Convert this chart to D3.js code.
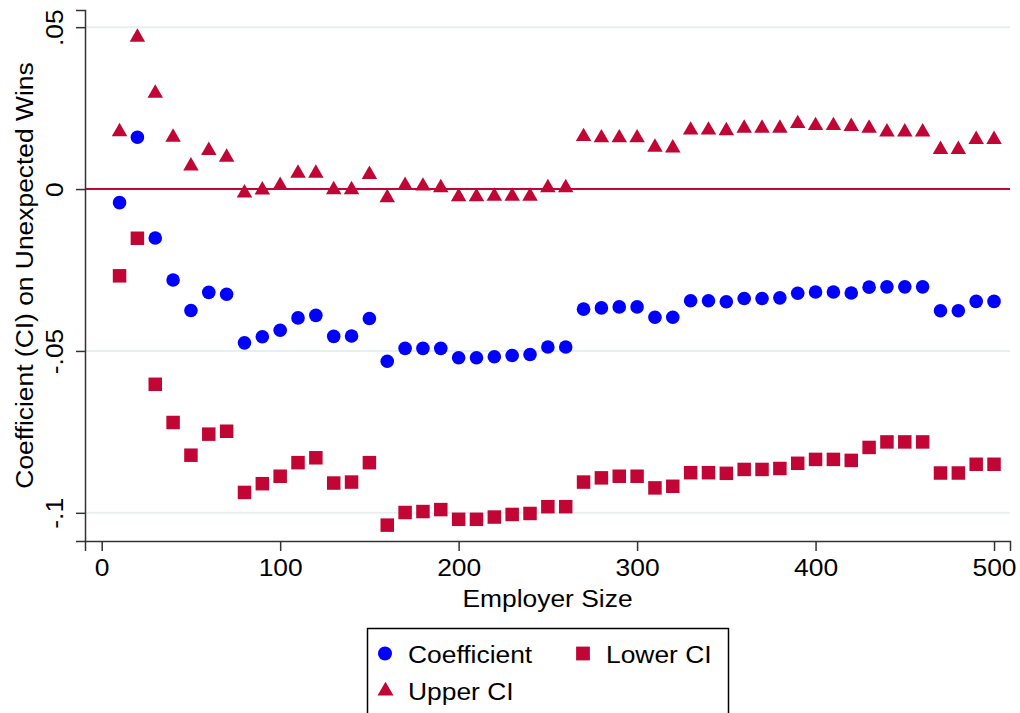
<!DOCTYPE html>
<html>
<head>
<meta charset="utf-8">
<script src="https://cdn.jsdelivr.net/npm/d3@7"></script>
<style>
  html, body { margin: 0; padding: 0; background: #fff; }
  svg { display: block; font-family: "Liberation Sans", Arial, Helvetica, sans-serif; }
</style>
</head>
<body>
<svg id="chart" width="1020" height="713"></svg>
<script>
// employer size bins
const sizes = [10, 20, 30, 40, 50, 60, 70, 80, 90, 100,
  110, 120, 130, 140, 150, 160, 170, 180, 190, 200,
  210, 220, 230, 240, 250, 260, 270, 280, 290, 300,
  310, 320, 330, 340, 350, 360, 370, 380, 390, 400,
  410, 420, 430, 440, 450, 460, 470, 480, 490, 500];

const coefficient = [-0.0042, 0.0160, -0.0151, -0.0281, -0.0375, -0.0319, -0.0325, -0.0475, -0.0456, -0.0436,
  -0.0398, -0.0390, -0.0455, -0.0454, -0.0400, -0.0532, -0.0492, -0.0492, -0.0492, -0.0521,
  -0.0521, -0.0518, -0.0514, -0.0511, -0.0488, -0.0488, -0.0371, -0.0367, -0.0364, -0.0364,
  -0.0396, -0.0396, -0.0345, -0.0345, -0.0348, -0.0338, -0.0338, -0.0336, -0.0322, -0.0318,
  -0.0318, -0.0321, -0.0303, -0.0302, -0.0302, -0.0302, -0.0376, -0.0376, -0.0347, -0.0347];

const lowerCI = [-0.0268, -0.0152, -0.0603, -0.0721, -0.0822, -0.0757, -0.0748, -0.0937, -0.0910, -0.0887,
  -0.0845, -0.0830, -0.0908, -0.0905, -0.0845, -0.1038, -0.0999, -0.0996, -0.0990, -0.1020,
  -0.1020, -0.1013, -0.1005, -0.1002, -0.0981, -0.0981, -0.0905, -0.0892, -0.0887, -0.0887,
  -0.0923, -0.0918, -0.0876, -0.0876, -0.0878, -0.0866, -0.0866, -0.0863, -0.0847, -0.0835,
  -0.0835, -0.0838, -0.0798, -0.0781, -0.0781, -0.0781, -0.0877, -0.0877, -0.0850, -0.0850];

const upperCI = [0.0177, 0.0469, 0.0296, 0.0160, 0.0071, 0.0119, 0.0098, -0.0012, -0.0003, 0.0011,
  0.0049, 0.0049, -0.0002, -0.0002, 0.0045, -0.0027, 0.0011, 0.0009, 0.0004, -0.0024,
  -0.0024, -0.0022, -0.0022, -0.0022, 0.0004, 0.0004, 0.0162, 0.0158, 0.0158, 0.0158,
  0.0129, 0.0127, 0.0182, 0.0182, 0.0180, 0.0188, 0.0188, 0.0188, 0.0202, 0.0196,
  0.0196, 0.0193, 0.0188, 0.0176, 0.0176, 0.0176, 0.0122, 0.0122, 0.0153, 0.0153];

const xTicks = [0, 100, 200, 300, 400, 500];
const yTicks = [-0.1, -0.05, 0, 0.05];
const yTickLabels = ["-.1", "-.05", "0", ".05"];

const blue = "#0000ff";
const red = "#c10534";

// the original font runs a bit wider than Liberation Sans
const stretch = "scale(1.1,1)";

const svg = d3.select("#chart");

// plot region
const plotLeft = 85, plotRight = 1010, plotTop = 10, plotBottom = 541;

const x = d3.scaleLinear()
  .domain([-9.36, 508.95])
  .range([plotLeft, plotRight]);

const y = d3.scaleLinear()
  .domain([-0.1087, 0.0553])
  .range([plotBottom, plotTop]);

// gridlines
svg.append("g")
  .selectAll("line")
  .data(yTicks.filter(d => d !== 0))
  .enter()
  .append("line")
  .attr("x1", plotLeft).attr("x2", plotRight)
  .attr("y1", d => y(d)).attr("y2", d => y(d))
  .attr("stroke", "#e8eff1")
  .attr("stroke-width", 2);

// zero reference line
svg.append("line")
  .attr("x1", plotLeft).attr("x2", plotRight)
  .attr("y1", y(0)).attr("y2", y(0))
  .attr("stroke", red)
  .attr("stroke-width", 2);

// axes
const xAxis = svg.append("g")
  .attr("transform", `translate(0,${plotBottom})`)
  .call(d3.axisBottom(x).tickValues(xTicks).tickSizeOuter(0).tickSize(10).tickPadding(8));

const yAxis = svg.append("g")
  .attr("transform", `translate(${plotLeft},0)`)
  .call(d3.axisLeft(y).tickValues(yTicks).tickSizeOuter(0).tickSize(9)
    .tickFormat((d, i) => yTickLabels[i]));

[xAxis, yAxis].forEach(g => {
  g.select(".domain").attr("stroke", "#333").attr("stroke-width", 1.5);
  g.selectAll(".tick line").attr("stroke", "#333").attr("stroke-width", 1.5);
  g.selectAll("text").attr("fill", "#000").attr("font-size", 24)
    .attr("font-family", "Liberation Sans, Arial, sans-serif");
});

xAxis.selectAll(".tick text").attr("transform", stretch);

yAxis.selectAll(".tick text")
  .attr("transform", "rotate(-90) " + stretch)
  .attr("x", 0)
  .attr("y", -22)
  .attr("dy", 0)
  .attr("text-anchor", "middle");

// axis titles
svg.append("text")
  .attr("transform", `translate(${(plotLeft + plotRight) / 2},607) ${stretch}`)
  .attr("text-anchor", "middle")
  .attr("font-size", 24)
  .text("Employer Size");

svg.append("text")
  .attr("transform", `translate(33,${(plotTop + plotBottom) / 2}) rotate(-90) ${stretch}`)
  .attr("text-anchor", "middle")
  .attr("font-size", 24)
  .text("Coefficient (CI) on Unexpected Wins");

// marks
const triangle = d3.symbol(d3.symbolTriangle, 104);
const square = d3.symbol(d3.symbolSquare, 182);

svg.append("g")
  .selectAll("path")
  .data(sizes.map((s, i) => [s, upperCI[i]]))
  .enter()
  .append("path")
  .attr("d", triangle)
  .attr("transform", d => `translate(${x(d[0])},${y(d[1])})`)
  .attr("fill", red);

svg.append("g")
  .selectAll("path")
  .data(sizes.map((s, i) => [s, lowerCI[i]]))
  .enter()
  .append("path")
  .attr("d", square)
  .attr("transform", d => `translate(${x(d[0])},${y(d[1])})`)
  .attr("fill", red);

svg.append("g")
  .selectAll("circle")
  .data(sizes.map((s, i) => [s, coefficient[i]]))
  .enter()
  .append("circle")
  .attr("cx", d => x(d[0]))
  .attr("cy", d => y(d[1]))
  .attr("r", 6.8)
  .attr("fill", blue);

// legend
const legend = svg.append("g");
legend.append("rect")
  .attr("x", 367.5).attr("y", 628.5)
  .attr("width", 361).attr("height", 100)
  .attr("fill", "#fff")
  .attr("stroke", "#000")
  .attr("stroke-width", 1.5);

const legendItems = [
  { label: "Coefficient", kind: "circle", color: blue, mx: 385, my: 653.5, tx: 408, ty: 663 },
  { label: "Lower CI", kind: "square", color: red, mx: 583, my: 653.5, tx: 606, ty: 663 },
  { label: "Upper CI", kind: "triangle", color: red, mx: 385.5, my: 691, tx: 408, ty: 700 }
];

legendItems.forEach(d => {
  if (d.kind === "circle") {
    legend.append("circle").attr("cx", d.mx).attr("cy", d.my).attr("r", 7).attr("fill", d.color);
  } else {
    legend.append("path")
      .attr("d", d.kind === "square" ? d3.symbol(d3.symbolSquare, 190)() : d3.symbol(d3.symbolTriangle, 110)())
      .attr("transform", `translate(${d.mx},${d.my})`)
      .attr("fill", d.color);
  }
  legend.append("text")
    .attr("transform", `translate(${d.tx},${d.ty}) ${stretch}`)
    .attr("font-size", 24)
    .text(d.label);
});
</script>
</body>
</html>
